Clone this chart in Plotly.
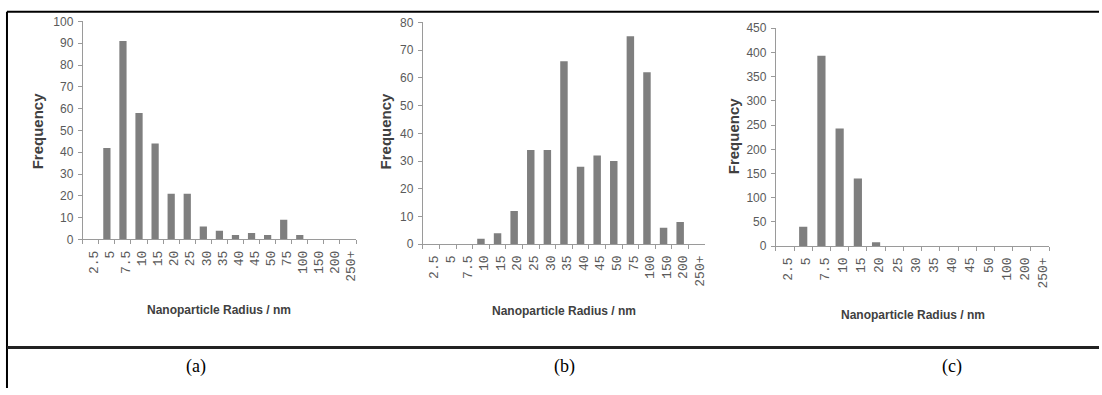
import plotly.graph_objects as go

W, H = 1102, 395

cats_ab = ["2.5", "5", "7.5", "10", "15", "20", "25", "30", "35", "40", "45", "50",
           "75", "100", "150", "200", "250+"]
cats_c = ["2.5", "5", "7.5", "10", "15", "20", "25", "30", "35", "40", "45", "50",
          "100", "200", "250+"]
freq_a = [0, 42, 91, 58, 44, 21, 21, 6, 4, 2, 3, 2, 9, 2, 0, 0, 0]
freq_b = [0, 0, 0, 2, 4, 12, 34, 34, 66, 28, 32, 30, 75, 62, 6, 8, 0]
freq_c = [0, 40, 393, 243, 140, 8, 0, 0, 0, 0, 0, 0, 0, 0, 0]
panel_labels = ["(a)", "(b)", "(c)"]

BAR = "#7f7f7f"
AX = "#9a9a9a"
TXT = "#5a5a5a"

# pixel boxes: x0, x1, ytop, ybottom, yrange, dtick
boxes = [
    (83, 357, 15, 241, 100, 10),
    (424, 707, 16, 246, 80, 10),
    (778, 1052, 22, 248, 450, 50),
]
data = [(cats_ab, freq_a), (cats_ab, freq_b), (cats_c, freq_c)]

fig = go.Figure()
layout = dict(
    width=W, height=H, margin=dict(l=0, r=0, t=0, b=0),
    paper_bgcolor="white", plot_bgcolor="white", showlegend=False,
    bargap=0.55,
)

def px(x):
    return x / W

def py(y):
    return 1 - y / H

for i, ((x0, x1, yt, yb, ymax, dt), (cats, vals)) in enumerate(zip(boxes, data)):
    s = "" if i == 0 else str(i + 1)
    fig.add_trace(go.Bar(x=cats, y=vals, marker=dict(color=BAR, line=dict(width=0)),
                         xaxis="x" + s, yaxis="y" + s))
    layout["xaxis" + s] = dict(
        domain=[px(x0), px(x1)], anchor="y" + s, type="category",
        categoryorder="array", categoryarray=cats,
        tickmode="array", tickvals=cats, ticktext=cats,
        showline=True, linecolor=AX, linewidth=1, ticks="outside", ticklen=4,
        tickcolor=AX, tickson="boundaries", tickangle=-90, showgrid=False,
        ticklabelstandoff=5, ticklabelshift=3,
        tickfont=dict(family="Liberation Mono", size=13, color=TXT), zeroline=False,
    )
    layout["yaxis" + s] = dict(
        domain=[py(yb), py(yt)], anchor="x" + s, range=[0, ymax], dtick=dt,
        showline=True, linecolor=AX, linewidth=1, ticks="outside", ticklen=4,
        tickcolor=AX, showgrid=False, zeroline=False, ticklabelstandoff=2,
        tickfont=dict(family="Liberation Sans", size=12, color=TXT),
    )

layout["shapes"] = [
    dict(type="line", xref="paper", yref="paper", x0=px(7), x1=1, y0=py(5), y1=py(5),
         line=dict(color="black", width=2)),
    dict(type="line", xref="paper", yref="paper", x0=px(7), x1=px(7), y0=0, y1=py(5),
         line=dict(color="black", width=2)),
    dict(type="line", xref="paper", yref="paper", x0=px(7), x1=1, y0=py(353), y1=py(353),
         line=dict(color="#222222", width=3)),
]

ann = []
xt_pos = [(220, 314), (566, 315), (915, 319)]
yt_pos = [(38, 128), (387, 128), (735, 133)]
for (x, y) in xt_pos:
    ann.append(dict(text="<b>Nanoparticle Radius / nm</b>", x=px(x), y=py(y),
                    xref="paper", yref="paper", showarrow=False,
                    xanchor="center", yanchor="middle",
                    font=dict(family="Liberation Sans", size=12, color="#404040")))
for (x, y) in yt_pos:
    ann.append(dict(text="<b>Frequency</b>", x=px(x), y=py(y), textangle=-90,
                    xref="paper", yref="paper", showarrow=False,
                    xanchor="center", yanchor="middle",
                    font=dict(family="Liberation Sans", size=15, color="#404040")))
for lab, x in zip(panel_labels, [197, 566, 955]):
    ann.append(dict(text=lab, x=px(x), y=py(373), xref="paper", yref="paper",
                    showarrow=False, xanchor="center", yanchor="middle",
                    font=dict(family="Liberation Serif", size=18, color="black")))
layout["annotations"] = ann

fig.update_layout(**layout)
fig.write_html("out.html")
